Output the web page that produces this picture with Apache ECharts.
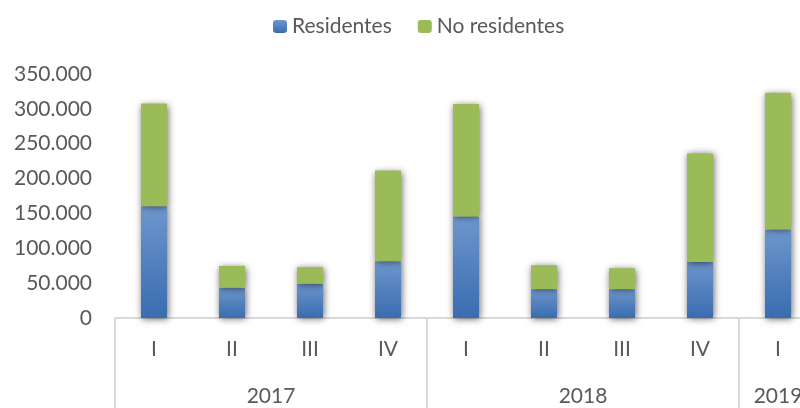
<!DOCTYPE html>
<html>
<head>
<meta charset="utf-8">
<script src="https://cdn.jsdelivr.net/npm/echarts@6/dist/echarts.min.js"></script>
<style>
  html, body { margin: 0; padding: 0; background: #fff; }
  #chart { width: 800px; height: 408px; }
</style>
</head>
<body>
<div id="chart"></div>
<script>
// Quarterly travellers, split by residents and non-residents
const quarters = ['I', 'II', 'III', 'IV', 'I', 'II', 'III', 'IV', 'I'];
const years = ['2017', '2018', '2019'];
const quartersPerYear = [4, 4, 1];
const residentes = [160400, 43300, 49000, 81400, 145700, 41400, 41400, 80500, 127000];
const noResidentes = [147200, 31400, 23900, 130000, 161300, 34300, 30000, 155500, 196000];
const yTicks = { min: 0, max: 350000, interval: 50000 };

// Year group boundaries and centres along the category band
const bounds = [];
const centres = [];
let acc = 0;
quartersPerYear.forEach(n => { bounds.push(acc); centres.push(acc + n / 2); acc += n; });

const textColor = '#595959';
const fontFamily = 'Lato, "Liberation Sans", sans-serif';
const fontSize = 21;
const lineColor = '#d9d9d9';

const fmtThousands = v => String(v).replace(/\B(?=(\d{3})+(?!\d))/g, '.');

const shadow = { shadowBlur: 7, shadowColor: 'rgba(0,0,0,0.6)', shadowOffsetX: 1, shadowOffsetY: 1 };

const chart = echarts.init(document.getElementById('chart'), null, { renderer: 'canvas' });
chart.setOption({
  animation: false,
  backgroundColor: '#ffffff',
  textStyle: { fontFamily: fontFamily },
  legend: {
    left: 268,
    top: 11,
    itemWidth: 14,
    itemHeight: 13,
    itemGap: 26,
    textStyle: { color: textColor, fontSize: fontSize, fontFamily: fontFamily },
    data: ['Residentes', 'No residentes']
  },
  // the last year's group runs past the right edge of the canvas
  grid: { left: 115, width: 702, top: 74, bottom: 90, containLabel: false, outerBoundsMode: 'none' },
  xAxis: [
    {
      type: 'category',
      data: quarters,
      position: 'bottom',
      boundaryGap: true,
      axisLine: { show: true, lineStyle: { color: lineColor, width: 2 } },
      axisTick: { show: false },
      axisLabel: { color: textColor, fontSize: fontSize, fontFamily: fontFamily, margin: 21, interval: 0 }
    },
    {
      type: 'value',
      position: 'bottom',
      min: 0,
      max: quarters.length,
      axisLine: { show: false },
      splitLine: { show: false },
      axisTick: {
        show: true,
        customValues: bounds,
        length: 92,
        lineStyle: { color: lineColor, width: 2 }
      },
      axisLabel: {
        customValues: centres,
        color: textColor,
        fontSize: fontSize,
        fontFamily: fontFamily,
        margin: 68,
        hideOverlap: false,
        formatter: v => {
          const i = centres.findIndex(c => Math.abs(c - v) < 1e-6);
          return i >= 0 ? years[i] : '';
        }
      }
    }
  ],
  yAxis: {
    type: 'value',
    min: yTicks.min,
    max: yTicks.max,
    interval: yTicks.interval,
    axisLine: { show: false },
    axisTick: { show: false },
    splitLine: { show: false },
    axisLabel: { color: textColor, fontSize: fontSize, fontFamily: fontFamily, margin: 23, formatter: fmtThousands }
  },
  series: [
    {
      name: 'Residentes',
      type: 'bar',
      stack: 'total',
      barWidth: 26,
      data: residentes,
      itemStyle: Object.assign({
        color: {
          type: 'linear', x: 0, y: 0, x2: 0, y2: 1,
          colorStops: [{ offset: 0, color: '#6d96cc' }, { offset: 1, color: '#3a6cb0' }]
        }
      }, shadow)
    },
    {
      name: 'No residentes',
      type: 'bar',
      stack: 'total',
      barWidth: 26,
      data: noResidentes,
      itemStyle: Object.assign({ color: '#9bbb59' }, shadow)
    }
  ]
});
</script>
</body>
</html>
